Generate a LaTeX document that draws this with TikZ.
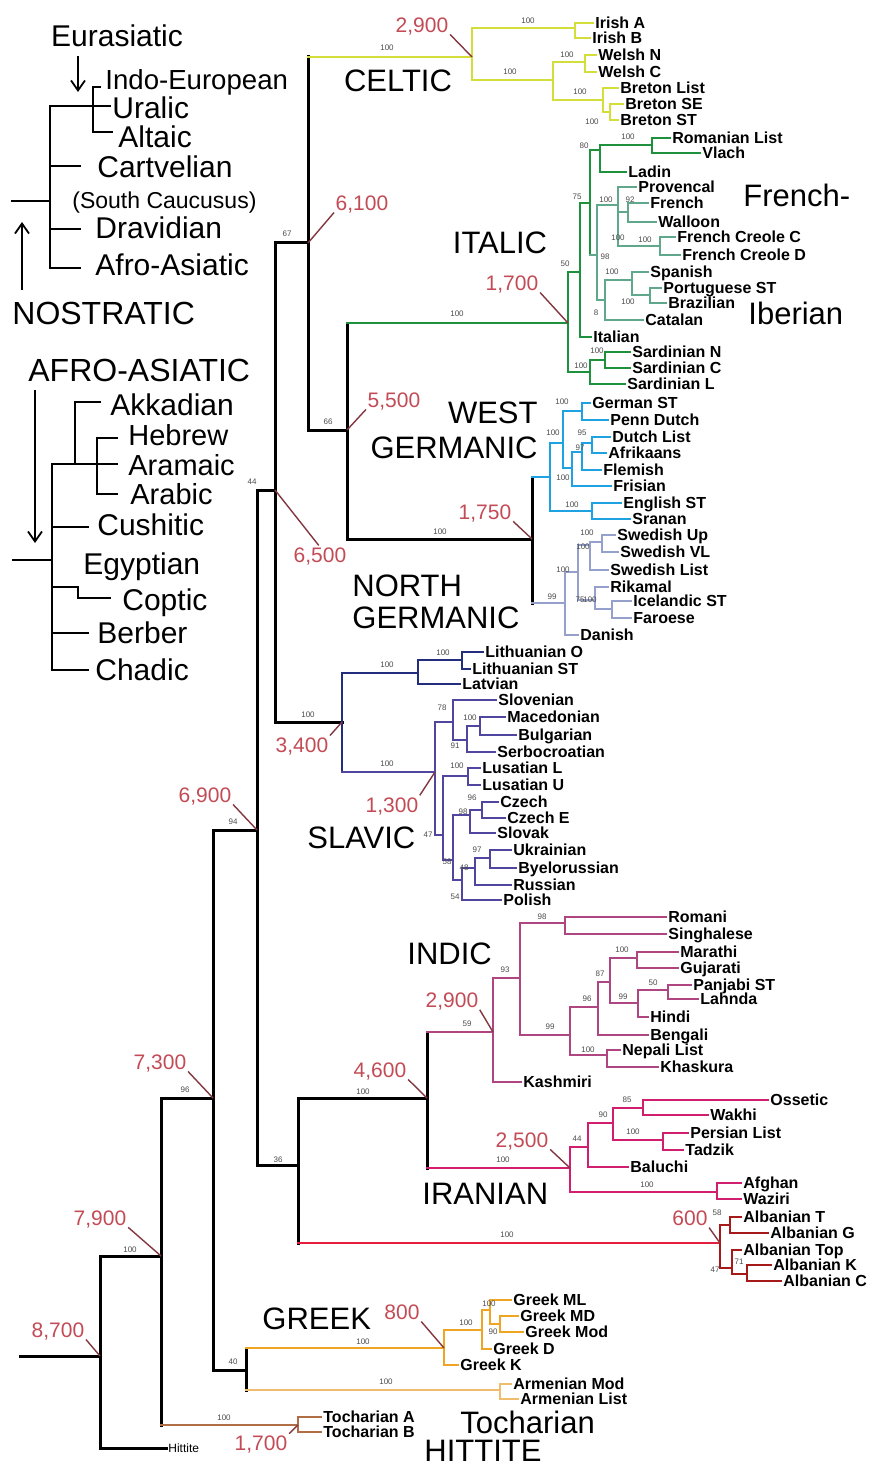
\documentclass[tikz,border=0pt]{standalone}
\usepackage{fontspec}
\setmainfont{Liberation Sans}
\usetikzlibrary{arrows.meta}

\definecolor{celc}{RGB}{212,222,58}
\definecolor{itac}{RGB}{30,145,60}
\definecolor{fric}{RGB}{95,168,140}
\definecolor{wgec}{RGB}{30,162,225}
\definecolor{ngec}{RGB}{150,160,205}
\definecolor{balc}{RGB}{35,45,125}
\definecolor{slac}{RGB}{80,70,160}
\definecolor{indc}{RGB}{175,70,130}
\definecolor{iranc}{RGB}{210,30,110}
\definecolor{albc}{RGB}{228,30,60}
\definecolor{albd}{RGB}{165,25,25}
\definecolor{grkc}{RGB}{238,165,35}
\definecolor{armc}{RGB}{240,188,110}
\definecolor{tocc}{RGB}{175,110,70}
\definecolor{datec}{RGB}{195,75,85}
\definecolor{leadc}{RGB}{130,55,65}

\newcommand\lffont{\bfseries\fontsize{8}{9}\selectfont}
\newcommand\lpfont{\fontsize{15}{17}\selectfont}
\newcommand\smfont{\fontsize{14.5}{16}\selectfont}
\newcommand\cafont{\fontsize{15.5}{17}\selectfont}
\newcommand\dtfont{\fontsize{10.5}{12}\selectfont}
\newcommand\bsfont{\fontsize{4}{4.5}\selectfont}

% bootstrap support values, numbered automatically
\newcounter{bsc}
\newcommand\bs[2]{\stepcounter{bsc}\node[boot] (bs\thebsc) at (#1) {#2};}
% uniform clade: child A, bar of node P, child B
\newcommand\cu[4][]{\draw[#1] (#3) -- (#2 |- #3) -- (#2 |- #4) -- (#4);}
% clade with own bar style and one style per child stem
\newcommand\cl[6]{\draw[#1] (#2 |- #3) -- (#2 |- #5); \draw[#4] (#2 |- #3) -- (#3); \draw[#6] (#2 |- #5) -- (#5);}

\begin{document}
\begin{tikzpicture}[x=0.5pt,y=-0.5pt,
  bb/.style={draw=black,line width=1.5pt,line cap=rect},
  lpl/.style={draw=black,line width=1pt,line cap=rect},
  stem/.style={line width=1.3pt},
  cel/.style={draw=celc,line width=1.1pt,line cap=rect},
  ita/.style={draw=itac,line width=1.1pt,line cap=rect},
  fri/.style={draw=fric,line width=0.9pt,line cap=rect},
  wge/.style={draw=wgec,line width=1.1pt,line cap=rect},
  nge/.style={draw=ngec,line width=0.9pt,line cap=rect},
  bal/.style={draw=balc,line width=1.1pt,line cap=rect},
  sla/.style={draw=slac,line width=1pt,line cap=rect},
  ind/.style={draw=indc,line width=1pt,line cap=rect},
  irn/.style={draw=iranc,line width=1.1pt,line cap=rect},
  alb/.style={draw=albc,line width=1.2pt,line cap=rect},
  albs/.style={draw=albd,line width=1.1pt,line cap=rect},
  grk/.style={draw=grkc,line width=1.1pt,line cap=rect},
  arm/.style={draw=armc,line width=1.1pt,line cap=rect},
  toc/.style={draw=tocc,line width=1.1pt,line cap=rect},
  leaf/.style={anchor=west,font=\lffont,inner xsep=1pt,inner ysep=0pt,text height=5.7pt,text depth=0pt,xshift=-1pt},
  lp/.style={anchor=west,font=\lpfont,inner sep=0pt,text height=10.7pt,text depth=0pt},
  clab/.style={font=\cafont,inner sep=0pt,text height=11.1pt,text depth=0pt},
  dt/.style={font=\dtfont,text=datec,inner sep=0pt,text height=7.6pt,text depth=0pt},
  boot/.style={font=\bsfont,text=black!70,inner sep=0pt},
  ld/.style={draw=leadc,line width=0.7pt,shorten <=1pt},
  arr/.style={draw=black,line width=0.9pt,-{Straight Barb[length=5pt,width=7pt]}}
]
\fill[white] (0,0) rectangle (870,1466);
\useasboundingbox (0,0) rectangle (870,1466);

% ---------------- Nostratic panel ----------------
\node[lp,anchor=center] (tEur) at (117,36) {Eurasiatic};
\coordinate (aEa) at (78,56); \coordinate (aEb) at (78,92);
\draw[arr] (aEa) -- (aEb);
\coordinate (nsR) at (12,201);
\coordinate (nsN) at (50,201);
\coordinate (nsE) at (93,106);
\coordinate (eIE) at (100,87);
\coordinate (eUr) at (110,106);
\coordinate (eAl) at (112,132);
\coordinate (eCa) at (80,166);
\coordinate (eDr) at (80,229);
\coordinate (eAA) at (80,268);
\draw[lpl] (eIE) -- (nsE |- eIE) -- (nsE |- eAl) -- (eAl);
\draw[lpl] (nsE) -- (eUr);
\draw[lpl] (nsE) -- (nsN |- nsE) -- (nsN |- eAA) -- (eAA);
\draw[lpl] (nsN |- eCa) -- (eCa);
\draw[lpl] (nsN |- eDr) -- (eDr);
\draw[lpl] (nsR) -- (nsN);
\node[lp,font=\fontsize{13.8}{15}\selectfont,text height=9.9pt] (tIE) at (105,80) {Indo-European};
\node[lp] (tUr) at (112,108) {Uralic};
\node[lp] (tAl) at (118,137) {Altaic};
\node[lp] (tCa) at (97,167) {Cartvelian};
\node[lp,font=\fontsize{11.5}{13}\selectfont,text height=8.3pt] (tSC) at (72,200) {(South Caucusus)};
\node[lp] (tDr) at (95,228) {Dravidian};
\node[lp] (tAA) at (95,265) {Afro-Asiatic};
\node[lp,font=\fontsize{16}{18}\selectfont,text height=11.5pt] (tNos) at (12,313) {NOSTRATIC};
\coordinate (aNa) at (22,290); \coordinate (aNb) at (22,222);
\draw[arr] (aNa) -- (aNb);

% ---------------- Afro-Asiatic panel ----------------
\node[lp,font=\fontsize{16}{18}\selectfont,text height=11.5pt] (tAfr) at (28,370) {AFRO-ASIATIC};
\coordinate (aAa) at (35,390); \coordinate (aAb) at (35,543);
\draw[arr] (aAa) -- (aAb);
\coordinate (aaR) at (13,560);
\coordinate (aaN) at (52,560);
\coordinate (aaS) at (75,464);
\coordinate (aaSem) at (97,464);
\coordinate (eAk) at (100,402);
\coordinate (eHe) at (117,438);
\coordinate (eAr) at (117,464);
\coordinate (eAb) at (117,494);
\coordinate (eCu) at (88,527);
\coordinate (aaEg) at (78,587);
\coordinate (eCo) at (110,598);
\coordinate (eBe) at (88,633);
\coordinate (eCh) at (88,670);
\draw[lpl] (aaR) -- (aaN);
\draw[lpl] (aaS) -- (aaN |- aaS) -- (aaN |- eCh) -- (eCh);
\draw[lpl] (eAk) -- (aaS |- eAk) -- (aaS) -- (aaSem);
\draw[lpl] (eHe) -- (aaSem |- eHe) -- (aaSem |- eAb) -- (eAb);
\draw[lpl] (aaSem) -- (eAr);
\draw[lpl] (aaN |- eCu) -- (eCu);
\draw[lpl] (aaN |- aaEg) -- (aaEg) -- (aaEg |- eCo) -- (eCo);
\draw[lpl] (aaN |- eBe) -- (eBe);
\node[lp] (tAk) at (110,405) {Akkadian};
\node[lp,font=\smfont,text height=10.4pt] (tHe) at (128,435) {Hebrew};
\node[lp,font=\smfont,text height=10.4pt] (tAr) at (128,465) {Aramaic};
\node[lp,font=\smfont,text height=10.4pt] (tAb) at (130,494) {Arabic};
\node[lp] (tCu) at (97,525) {Cushitic};
\node[lp] (tEg) at (83,564) {Egyptian};
\node[lp] (tCo) at (122,600) {Coptic};
\node[lp] (tBe) at (97,633) {Berber};
\node[lp] (tCh) at (95,670) {Chadic};

% ---------------- Indo-European tree: internal nodes ----------------
\coordinate (rootL) at (20,1356);
\coordinate (r0) at (100,1356);
\coordinate (n7900) at (161,1256);
\coordinate (n7300) at (213,1098);
\coordinate (n6900) at (257,830);
\coordinate (n36) at (298,1165);
\coordinate (n44) at (275,490);
\coordinate (n67) at (308,243);
\coordinate (n66) at (347,430);
\coordinate (nBS) at (342,722);
\coordinate (nII) at (427,1098);
\coordinate (nGA) at (246,1370);

\coordinate (nCelt) at (472,57);
\coordinate (nIrish) at (575,28);
\coordinate (nBry) at (553,80);
\coordinate (nWelsh) at (585,62);
\coordinate (nBret) at (603,100);
\coordinate (nBret2) at (610,112);

\coordinate (nItal) at (568,323);
\coordinate (nIt50) at (580,272);
\coordinate (nIt75) at (590,203);
\coordinate (nIt80) at (600,150);
\coordinate (nRV) at (652,145);
\coordinate (nFI) at (597,255);
\coordinate (nFr) at (618,205);
\coordinate (nFW) at (628,212);
\coordinate (nFC) at (660,246);
\coordinate (nIb) at (605,300);
\coordinate (nSP) at (632,280);
\coordinate (nPB) at (650,295);
\coordinate (nSard) at (590,372);
\coordinate (nSNC) at (605,360);

\coordinate (nGerm) at (532,539);
\coordinate (nWG) at (550,477);
\coordinate (nCont) at (563,443);
\coordinate (nGP) at (582,411);
\coordinate (nX) at (572,468);
\coordinate (nDAF) at (582,452);
\coordinate (nDA) at (592,443);
\coordinate (nES) at (592,511);
\coordinate (nNG) at (565,603);
\coordinate (nScand) at (578,572);
\coordinate (nSw) at (590,545);
\coordinate (nUV) at (602,542);
\coordinate (nWN) at (595,600);
\coordinate (nIF) at (612,609);

\coordinate (nBalt) at (418,673);
\coordinate (nLith) at (462,660);
\coordinate (nSlav) at (435,772);
\coordinate (nSS) at (453,722);
\coordinate (nMBS) at (467,740);
\coordinate (nMB) at (480,726);
\coordinate (nWE) at (443,835);
\coordinate (nLus) at (468,776);
\coordinate (nR1) at (453,860);
\coordinate (nCS) at (470,815);
\coordinate (nCz) at (482,810);
\coordinate (nR2) at (462,880);
\coordinate (nEsl) at (475,868);
\coordinate (nUB) at (490,858);

\coordinate (nIndic) at (493,1032);
\coordinate (nI93) at (520,978);
\coordinate (nI98) at (565,923);
\coordinate (nI99) at (570,1035);
\coordinate (nI96) at (598,1007);
\coordinate (nI87) at (610,982);
\coordinate (nI100) at (637,958);
\coordinate (nI99b) at (638,1003);
\coordinate (nI50) at (668,990);
\coordinate (nNep) at (607,1055);
\coordinate (nIran) at (570,1168);
\coordinate (nI44) at (588,1147);
\coordinate (nI90) at (613,1123);
\coordinate (nI85) at (643,1108);
\coordinate (nPer) at (663,1140);
\coordinate (nAfg) at (717,1192);
\coordinate (nAlb) at (720,1243);
\coordinate (nAlb1) at (730,1225);
\coordinate (nAlb2) at (732,1268);
\coordinate (nAlbKC) at (747,1274);

\coordinate (nGreek) at (444,1348);
\coordinate (nG1) at (482,1330);
\coordinate (nG2) at (490,1310);
\coordinate (nG3) at (500,1324);
\coordinate (nArm) at (500,1390);
\coordinate (nToc) at (298,1425);

% ---------------- leaves ----------------
\node[leaf] (lIrA) at (595,23) {Irish A};
\node[leaf] (lIrB) at (592,38) {Irish B};
\node[leaf] (lWeN) at (598,55) {Welsh N};
\node[leaf] (lWeC) at (598,72) {Welsh C};
\node[leaf] (lBrL) at (620,88) {Breton List};
\node[leaf] (lBrSE) at (625,104) {Breton SE};
\node[leaf] (lBrST) at (620,120) {Breton ST};

\node[leaf] (lRom) at (672,138) {Romanian List};
\node[leaf] (lVla) at (702,153) {Vlach};
\node[leaf] (lLad) at (628,172) {Ladin};
\node[leaf] (lPro) at (638,187) {Provencal};
\node[leaf] (lFre) at (650,203) {French};
\node[leaf] (lWal) at (658,222) {Walloon};
\node[leaf] (lFCC) at (677,237) {French Creole C};
\node[leaf] (lFCD) at (682,255) {French Creole D};
\node[leaf] (lSpa) at (650,272) {Spanish};
\node[leaf] (lPor) at (663,288) {Portuguese ST};
\node[leaf] (lBra) at (668,303) {Brazilian};
\node[leaf] (lCat) at (645,320) {Catalan};
\node[leaf] (lIta) at (593,337) {Italian};
\node[leaf] (lSaN) at (632,352) {Sardinian N};
\node[leaf] (lSaC) at (632,368) {Sardinian C};
\node[leaf] (lSaL) at (627,384) {Sardinian L};

\node[leaf] (lGer) at (592,403) {German ST};
\node[leaf] (lPen) at (610,420) {Penn Dutch};
\node[leaf] (lDut) at (612,437) {Dutch List};
\node[leaf] (lAfr) at (608,453) {Afrikaans};
\node[leaf] (lFle) at (603,470) {Flemish};
\node[leaf] (lFri) at (613,486) {Frisian};
\node[leaf] (lEng) at (623,503) {English ST};
\node[leaf] (lSra) at (632,519) {Sranan};
\node[leaf] (lSwU) at (617,535) {Swedish Up};
\node[leaf] (lSwV) at (620,552) {Swedish VL};
\node[leaf] (lSwL) at (610,570) {Swedish List};
\node[leaf] (lRik) at (610,587) {Rikamal};
\node[leaf] (lIce) at (633,601) {Icelandic ST};
\node[leaf] (lFar) at (633,618) {Faroese};
\node[leaf] (lDan) at (580,635) {Danish};

\node[leaf] (lLiO) at (485,652) {Lithuanian O};
\node[leaf] (lLiS) at (472,669) {Lithuanian ST};
\node[leaf] (lLat) at (462,684) {Latvian};
\node[leaf] (lSlo) at (498,700) {Slovenian};
\node[leaf] (lMac) at (507,717) {Macedonian};
\node[leaf] (lBul) at (518,735) {Bulgarian};
\node[leaf] (lSer) at (497,752) {Serbocroatian};
\node[leaf] (lLuL) at (482,768) {Lusatian L};
\node[leaf] (lLuU) at (482,785) {Lusatian U};
\node[leaf] (lCz) at (500,802) {Czech};
\node[leaf] (lCzE) at (507,818) {Czech E};
\node[leaf] (lSlk) at (497,833) {Slovak};
\node[leaf] (lUkr) at (513,850) {Ukrainian};
\node[leaf] (lBye) at (518,868) {Byelorussian};
\node[leaf] (lRus) at (513,885) {Russian};
\node[leaf] (lPol) at (503,900) {Polish};

\node[leaf] (lRmi) at (668,917) {Romani};
\node[leaf] (lSin) at (668,934) {Singhalese};
\node[leaf] (lMar) at (680,952) {Marathi};
\node[leaf] (lGuj) at (680,968) {Gujarati};
\node[leaf] (lPan) at (693,985) {Panjabi ST};
\node[leaf] (lLah) at (700,999) {Lahnda};
\node[leaf] (lHin) at (650,1017) {Hindi};
\node[leaf] (lBen) at (650,1035) {Bengali};
\node[leaf] (lNep) at (622,1050) {Nepali List};
\node[leaf] (lKha) at (660,1067) {Khaskura};
\node[leaf] (lKas) at (523,1082) {Kashmiri};

\node[leaf] (lOss) at (770,1100) {Ossetic};
\node[leaf] (lWak) at (710,1115) {Wakhi};
\node[leaf] (lPer) at (690,1133) {Persian List};
\node[leaf] (lTad) at (685,1150) {Tadzik};
\node[leaf] (lBal) at (630,1167) {Baluchi};
\node[leaf] (lAfg) at (743,1183) {Afghan};
\node[leaf] (lWaz) at (743,1199) {Waziri};

\node[leaf] (lAlT) at (743,1217) {Albanian T};
\node[leaf] (lAlG) at (770,1233) {Albanian G};
\node[leaf] (lAlTop) at (743,1250) {Albanian Top};
\node[leaf] (lAlK) at (773,1265) {Albanian K};
\node[leaf] (lAlC) at (783,1281) {Albanian C};

\node[leaf] (lGML) at (513,1300) {Greek ML};
\node[leaf] (lGMD) at (520,1316) {Greek MD};
\node[leaf] (lGMo) at (525,1332) {Greek Mod};
\node[leaf] (lGD) at (493,1349) {Greek D};
\node[leaf] (lGK) at (460,1365) {Greek K};
\node[leaf] (lArM) at (513,1384) {Armenian Mod};
\node[leaf] (lArL) at (520,1399) {Armenian List};
\node[leaf] (lToA) at (323,1417) {Tocharian A};
\node[leaf] (lToB) at (323,1432) {Tocharian B};
\node[leaf,font=\fontsize{6}{7}\selectfont,text height=4.3pt] (lHit) at (168,1448) {Hittite};

% ---------------- branches ----------------
\draw[bb] (rootL) -- (r0);
\cl{bb}{r0}{n7900}{bb}{lHit}{bb}
\cl{bb}{n7900}{n7300}{bb}{nToc}{toc,stem}
\cl{bb}{n7300}{n6900}{bb}{nGA}{bb}
\cl{bb}{nGA}{nGreek}{grk,stem}{nArm}{arm,stem}
\cl{bb}{n6900}{n44}{bb}{n36}{bb}
\cl{bb}{n36}{nII}{bb}{nAlb}{alb,stem}
\cl{bb}{nII}{nIndic}{ind,stem}{nIran}{irn,stem}
\cl{bb}{n44}{n67}{bb}{nBS}{bb}
\cl{bb}{n67}{nCelt}{cel,stem}{n66}{bb}
\cl{bb}{n66}{nItal}{ita,stem}{nGerm}{bb}
\cl{bb}{nGerm}{nWG}{wge}{nNG}{nge}
\cl{bal}{nBS}{nBalt}{bal}{nSlav}{sla}

% Celtic
\cu[cel]{nCelt}{nIrish}{nBry}
\cu[cel]{nIrish}{lIrA}{lIrB}
\cu[cel]{nBry}{nWelsh}{nBret}
\cu[cel]{nWelsh}{lWeN}{lWeC}
\cu[cel]{nBret}{lBrL}{nBret2}
\cu[cel]{nBret2}{lBrSE}{lBrST}

% Italic
\cu[ita]{nItal}{nIt50}{nSard}
\cu[ita]{nIt50}{nIt75}{lIta}
\cl{ita}{nIt75}{nIt80}{ita}{nFI}{fri}
\cu[ita]{nIt80}{nRV}{lLad}
\cu[ita]{nRV}{lRom}{lVla}
\cu[fri]{nFI}{nFr}{nIb}
\cu[fri]{nFr}{lPro}{nFC}
\draw[fri] (nFr |- nFW) -- (nFW);
\cu[fri]{nFW}{lFre}{lWal}
\cu[fri]{nFC}{lFCC}{lFCD}
\cu[fri]{nIb}{nSP}{lCat}
\cu[fri]{nSP}{lSpa}{nPB}
\cu[fri]{nPB}{lPor}{lBra}
\cu[ita]{nSard}{nSNC}{lSaL}
\cu[ita]{nSNC}{lSaN}{lSaC}

% Germanic
\cu[wge]{nWG}{nCont}{nES}
\cu[wge]{nCont}{nGP}{nX}
\cu[wge]{nGP}{lGer}{lPen}
\cu[wge]{nX}{nDAF}{lFri}
\cu[wge]{nDAF}{nDA}{lFle}
\cu[wge]{nDA}{lDut}{lAfr}
\cu[wge]{nES}{lEng}{lSra}
\cu[nge]{nNG}{nScand}{lDan}
\cu[nge]{nScand}{nSw}{nWN}
\cu[nge]{nSw}{nUV}{lSwL}
\cu[nge]{nUV}{lSwU}{lSwV}
\cu[nge]{nWN}{lRik}{nIF}
\cu[nge]{nIF}{lIce}{lFar}

% Balto-Slavic
\cu[bal]{nBalt}{nLith}{lLat}
\cu[bal]{nLith}{lLiO}{lLiS}
\cu[sla]{nSlav}{nSS}{nWE}
\cu[sla]{nSS}{lSlo}{nMBS}
\cu[sla]{nMBS}{nMB}{lSer}
\cu[sla]{nMB}{lMac}{lBul}
\cu[sla]{nWE}{nLus}{nR1}
\cu[sla]{nLus}{lLuL}{lLuU}
\cu[sla]{nR1}{nCS}{nR2}
\cu[sla]{nCS}{nCz}{lSlk}
\cu[sla]{nCz}{lCz}{lCzE}
\cu[sla]{nR2}{nEsl}{lPol}
\cu[sla]{nEsl}{nUB}{lRus}
\cu[sla]{nUB}{lUkr}{lBye}

% Indic
\cu[ind]{nIndic}{nI93}{lKas}
\cu[ind]{nI93}{nI98}{nI99}
\cu[ind]{nI98}{lRmi}{lSin}
\cu[ind]{nI99}{nI96}{nNep}
\cu[ind]{nI96}{nI87}{lBen}
\cu[ind]{nI87}{nI100}{nI99b}
\cu[ind]{nI100}{lMar}{lGuj}
\cu[ind]{nI99b}{nI50}{lHin}
\cu[ind]{nI50}{lPan}{lLah}
\cu[ind]{nNep}{lNep}{lKha}

% Iranian
\cu[irn]{nIran}{nI44}{nAfg}
\cu[irn]{nI44}{nI90}{lBal}
\cu[irn]{nI90}{nI85}{nPer}
\cu[irn]{nI85}{lOss}{lWak}
\cu[irn]{nPer}{lPer}{lTad}
\cu[irn]{nAfg}{lAfg}{lWaz}

% Albanian
\cu[albs]{nAlb}{nAlb1}{nAlb2}
\cu[albs]{nAlb1}{lAlT}{lAlG}
\cu[albs]{nAlb2}{lAlTop}{nAlbKC}
\cu[albs]{nAlbKC}{lAlK}{lAlC}

% Greek, Armenian, Tocharian
\cu[grk]{nGreek}{nG1}{lGK}
\cu[grk]{nG1}{nG2}{lGD}
\cu[grk]{nG2}{lGML}{nG3}
\cu[grk]{nG3}{lGMD}{lGMo}
\cu[arm]{nArm}{lArM}{lArL}
\cu[toc]{nToc}{lToA}{lToB}

% ---------------- group names ----------------
\node[clab] (cCel) at (398,80) {CELTIC};
\node[clab] (cIta) at (500,242) {ITALIC};
\node[clab,anchor=west] (cFr) at (743,195) {French-};
\node[clab,anchor=west] (cIb) at (748,313) {Iberian};
\node[clab,anchor=east] (cWest) at (538,412) {WEST};
\node[clab,anchor=east] (cWG) at (538,447) {GERMANIC};
\node[clab,anchor=west] (cNorth) at (352,585) {NORTH};
\node[clab,anchor=west] (cNG) at (352,617) {GERMANIC};
\node[clab,anchor=west] (cSla) at (307,837) {SLAVIC};
\node[clab,anchor=west] (cInd) at (407,953) {INDIC};
\node[clab,anchor=west] (cIra) at (422,1193) {IRANIAN};
\node[clab,anchor=west] (cGre) at (262,1318) {GREEK};
\node[clab,anchor=west] (cToc) at (460,1422) {Tocharian};
\node[clab,anchor=west] (cHit) at (424,1450) {HITTITE};

% ---------------- dates with leaders ----------------
\node[dt] (dCel) at (422,25) {2,900};
\draw[ld] (dCel.south east) -- (nCelt);
\node[dt] (d6100) at (362,203) {6,100};
\draw[ld] (d6100.south west) -- (n67);
\node[dt] (dIta) at (512,283) {1,700};
\draw[ld] (dIta.south east) -- (nItal);
\node[dt] (d5500) at (394,400) {5,500};
\draw[ld] (d5500.south west) -- (n66);
\node[dt] (d6500) at (320,555) {6,500};
\draw[ld] (d6500.north) -- (n44);
\node[dt] (dGer) at (485,512) {1,750};
\draw[ld] (dGer.south east) -- (nGerm);
\node[dt] (d3400) at (302,745) {3,400};
\draw[ld] (d3400.north east) -- (nBS);
\node[dt] (dSla) at (392,805) {1,300};
\draw[ld] (dSla.north east) -- (nSlav);
\node[dt] (d6900) at (205,795) {6,900};
\draw[ld] (d6900.south east) -- (n6900);
\node[dt] (dInd) at (452,1000) {2,900};
\draw[ld] (dInd.south east) -- (nIndic);
\node[dt] (d4600) at (380,1070) {4,600};
\draw[ld] (d4600.south east) -- (nII);
\node[dt] (dIra) at (522,1140) {2,500};
\draw[ld] (dIra.south east) -- (nIran);
\node[dt] (dAlb) at (690,1218) {600};
\draw[ld] (dAlb.south east) -- (nAlb);
\node[dt] (d7300) at (160,1062) {7,300};
\draw[ld] (d7300.south east) -- (n7300);
\node[dt] (d7900) at (100,1218) {7,900};
\draw[ld] (d7900.south east) -- (n7900);
\node[dt] (d8700) at (58,1330) {8,700};
\draw[ld] (d8700.south east) -- (r0);
\node[dt] (dGre) at (402,1312) {800};
\draw[ld] (dGre.south east) -- (nGreek);
\node[dt] (dToc) at (261,1443) {1,700};
\draw[ld] (dToc.north east) -- (nToc);

% ---------------- support values ----------------
\bs{387,48}{100} \bs{528,21}{100} \bs{510,72}{100} \bs{567,55}{100} \bs{580,92}{100} \bs{592,122}{100}
\bs{457,314}{100} \bs{565,264}{50} \bs{577,197}{75} \bs{584,146}{80} \bs{628,137}{100}
\bs{606,200}{100} \bs{630,200}{92} \bs{618,238}{100} \bs{645,240}{100} \bs{605,257}{98}
\bs{612,272}{100} \bs{628,302}{100} \bs{596,313}{8} \bs{597,351}{100} \bs{581,366}{100}
\bs{287,234}{67} \bs{328,422}{66} \bs{252,482}{44}
\bs{440,532}{100} \bs{553,433}{100} \bs{562,402}{100} \bs{582,433}{95} \bs{580,448}{97}
\bs{563,478}{100} \bs{572,505}{100} \bs{552,597}{99} \bs{563,570}{100} \bs{587,533}{100}
\bs{583,547}{100} \bs{580,600}{75} \bs{590,600}{100}
\bs{308,715}{100} \bs{387,665}{100} \bs{443,653}{100} \bs{387,764}{100} \bs{442,708}{78}
\bs{470,718}{100} \bs{455,746}{91} \bs{457,766}{100} \bs{472,798}{96} \bs{463,812}{98}
\bs{428,835}{47} \bs{447,862}{58} \bs{477,850}{97} \bs{464,868}{48} \bs{455,897}{54}
\bs{233,822}{94} \bs{278,1160}{36} \bs{185,1090}{96} \bs{130,1250}{100}
\bs{363,1092}{100} \bs{467,1024}{59} \bs{505,970}{93} \bs{542,917}{98} \bs{550,1027}{99}
\bs{587,999}{96} \bs{600,974}{87} \bs{622,950}{100} \bs{623,997}{99} \bs{653,983}{50} \bs{588,1050}{100}
\bs{503,1160}{100} \bs{577,1139}{44} \bs{603,1115}{90} \bs{627,1100}{85} \bs{633,1132}{100} \bs{647,1185}{100}
\bs{507,1235}{100} \bs{717,1213}{58} \bs{715,1270}{47} \bs{739,1262}{71}
\bs{233,1362}{40} \bs{363,1342}{100} \bs{466,1323}{100} \bs{489,1304}{100} \bs{493,1332}{90} \bs{386,1382}{100}
\bs{224,1418}{100}
\end{tikzpicture}
\end{document}
